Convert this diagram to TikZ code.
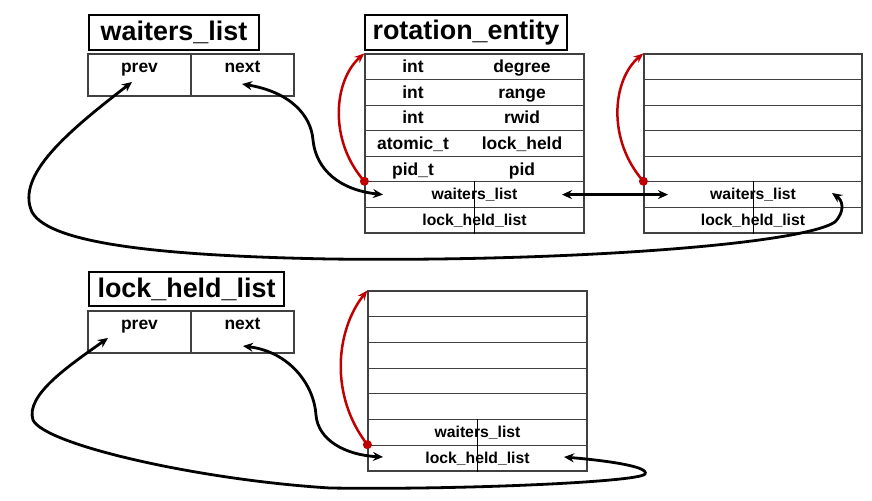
\documentclass[tikz,border=0pt]{standalone}
\usepackage{fontspec}
\setmainfont{Liberation Sans}
\usetikzlibrary{arrows.meta}
\definecolor{redarr}{HTML}{C00000}
\begin{document}
\begin{tikzpicture}[x=1bp,y=-1bp,
  titlebox/.style={draw=black, line width=1.1bp, inner sep=0, minimum height=35bp, font=\bfseries\fontsize{27}{30}\selectfont},
  tabrow/.style={draw=black!75, line width=1.2bp, inner sep=0, minimum width=219bp, minimum height=25.6bp},
  pcell/.style={draw=black!75, line width=1.2bp, inner sep=0, minimum width=103bp, minimum height=42bp},
  ctext/.style={font=\bfseries\fontsize{17.5}{20}\selectfont, inner sep=0, anchor=base},
  stext/.style={font=\bfseries\fontsize{15.8}{18}\selectfont, inner sep=0, anchor=base},
  divline/.style={draw=black, line width=1bp},
  link/.style={draw=black, line width=2.8bp, {Stealth[length=10bp,width=9bp]}-{Stealth[length=10bp,width=9bp]}},
  selfarrow/.style={draw=redarr, line width=2.5bp, -{Stealth[length=10bp,width=8bp]}},
  reddot/.style={circle, fill=redarr, inner sep=0, minimum size=9bp}
]
\useasboundingbox (0,0) rectangle (872,501);

% titles
\node[titlebox, minimum width=170bp] (tw) at (174,32.5) {waiters\_list};
\node[titlebox, minimum width=202bp] (tr) at (466,32.5) {rotation\_entity};
\node[titlebox, minimum width=195bp, minimum height=34bp] (tl) at (186.5,289) {lock\_held\_list};

% prev/next boxes
\node[pcell] (wp) at (139.5,75) {};
\node[pcell] (wn) at (242.5,75) {};
\node[pcell] (lp) at (139.5,332) {};
\node[pcell] (ln) at (242.5,332) {};
\node[ctext] at ([yshift=-19bp]wp.north) {prev};
\node[ctext] at ([yshift=-19bp]wn.north) {next};
\node[ctext] at ([yshift=-19bp]lp.north) {prev};
\node[ctext] at ([yshift=-19bp]ln.north) {next};

% tables
\foreach \i in {1,...,7} {
  \node[tabrow] (a\i) at (474.5,{54+(\i-0.5)*25.571}) {};
  \node[tabrow, minimum width=218bp] (b\i) at (753,{54+(\i-0.5)*25.571}) {};
  \node[tabrow, minimum height=25.71bp] (c\i) at (477.5,{291+(\i-0.5)*25.714}) {};
}
\foreach \i/\l/\r in {1/int/degree, 2/int/range, 3/int/rwid, 4/atomic\_t/lock\_held, 5/pid\_t/pid} {
  \node[ctext] at ([xshift=-61.5bp,yshift=-6bp]a\i.center) {\l};
  \node[ctext] at ([xshift=47.5bp,yshift=-6bp]a\i.center) {\r};
}
\draw[divline] (a6.north) -- (a7.south);
\draw[divline] (b6.north) -- (b7.south);
\draw[divline] (c6.north) -- (c7.south);
\node[stext] at ([yshift=-5bp]a6.center) {waiters\_list};
\node[stext] at ([yshift=-5bp]a7.center) {lock\_held\_list};
\node[stext] at ([yshift=-5bp]b6.center) {waiters\_list};
\node[stext] at ([yshift=-5bp]b7.center) {lock\_held\_list};
\node[stext] at ([yshift=-5bp]c6.center) {waiters\_list};
\node[stext] at ([yshift=-5bp]c7.center) {lock\_held\_list};

% named connector ends
\coordinate (wpT) at (132,82);
\coordinate (wnT) at (242,84);
\coordinate (lpT) at (108,338);
\coordinate (lnT) at (243,346);
\coordinate (a6L) at (383,194.6);
\coordinate (a6R) at (562,194.6);
\coordinate (b6L) at (668,194.6);
\coordinate (b6T) at (832,193);
\coordinate (c7L) at (383,457);
\coordinate (c7R) at (564,457);

% red self arrows
\draw[selfarrow] (a6.north west) .. controls (328,140) and (334,80) .. (a1.north west);
\draw[selfarrow] (b6.north west) .. controls (607,140) and (612,80) .. (b1.north west);
\draw[selfarrow] (c7.north west) .. controls (329,395) and (336,330) .. (c1.north west);
\node[reddot] (ad) at (a6.north west) {};
\node[reddot] (bd) at (b6.north west) {};
\node[reddot] (cd) at (c7.north west) {};

% black links
\draw[link] (wnT) .. controls (290,92) and (311,115) .. (313,140) .. controls (316,170) and (340,190) .. (a6L);
\draw[link] (a6R) -- (b6L);
\draw[link] (wpT) .. controls (70,130) and (15,175) .. (32,212) .. controls (50,245) and (170,256) .. (330,259) .. controls (560,262) and (800,245) .. (835,222) .. controls (846,210) and (842,200) .. (b6T);
\draw[link] (lnT) .. controls (290,352) and (314,385) .. (316,415) .. controls (318,440) and (345,455) .. (c7L);
\draw[link] (lpT) .. controls (70,365) and (25,395) .. (33,420) .. controls (45,445) and (200,480) .. (330,488) .. controls (460,490) and (640,482) .. (645,474) .. controls (650,466) and (600,460) .. (c7R);
\end{tikzpicture}
\end{document}
